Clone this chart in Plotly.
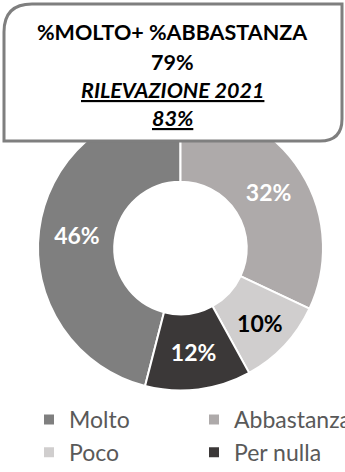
import plotly.graph_objects as go

W, H = 345, 472

labels = ["Molto", "Abbastanza", "Poco", "Per nulla"]
values = [46, 32, 10, 12]
colors = ["#7f7f7f", "#aeaaaa", "#d0cece", "#3b3838"]
text_colors = ["#ffffff", "#ffffff", "#000000", "#ffffff"]
box_lines = ["<b>%MOLTO+ %ABBASTANZA</b>", "<b>79%</b>",
             "<b><i><u>RILEVAZIONE 2021</u></i></b>", "<b><i><u>83%</u></i></b>"]

def px(x):
    return x / W

def py(y):
    return 1 - y / H

# pie geometry (pixels)
cx, cy, R = 180.5, 248, 142.5
start_fraction = sum(values[1:])  # Molto starts after the other slices clockwise

fig = go.Figure(go.Pie(
    labels=labels,
    values=values,
    sort=False,
    direction="clockwise",
    rotation=360 * start_fraction / sum(values),
    hole=0.465,
    marker=dict(colors=colors, line=dict(color="#ffffff", width=2)),
    texttemplate="%{value}%",
    textposition="inside",
    insidetextorientation="horizontal",
    textfont=dict(family="Lato", size=23, color=text_colors, weight="bold"),
    domain=dict(x=[px(cx - R), px(cx + R)], y=[py(cy + R), py(cy - R)]),
    hoverinfo="label+percent",
))

x0, x1, y0, y1 = 4, 342, 4, 141
r1, r2 = 28, 22
path = (f"M {px(x0)},{py(y0 + r1)} Q {px(x0)},{py(y0)} {px(x0 + r1)},{py(y0)} "
        f"L {px(x1)},{py(y0)} L {px(x1)},{py(y1 - r2)} "
        f"Q {px(x1)},{py(y1)} {px(x1 - r2)},{py(y1)} L {px(x0)},{py(y1)} Z")

fig.add_shape(type="path", path=path, xref="paper", yref="paper",
              line=dict(color="#7f7f7f", width=3), fillcolor="#ffffff", layer="above")

line_y = [32, 62, 90, 118]
for t, yy in zip(box_lines, line_y):
    fig.add_annotation(text=t, x=px(172), y=py(yy), xref="paper", yref="paper",
                       showarrow=False, xanchor="center", yanchor="middle",
                       font=dict(family="Lato", size=21.5, color="#000000"))

fig.update_layout(
    width=W, height=H,
    margin=dict(l=0, r=0, t=0, b=0, autoexpand=False),
    paper_bgcolor="#ffffff",
    plot_bgcolor="#ffffff",
    showlegend=True,
    legend=dict(orientation="h", x=px(29), y=py(398), xanchor="left", yanchor="top",
                entrywidth=120, font=dict(family="Lato", size=23, color="#595959"),
                traceorder="normal"),
)

fig.write_html("out.html", config={"displayModeBar": False},
               post_script="document.body.style.margin='0px';")
